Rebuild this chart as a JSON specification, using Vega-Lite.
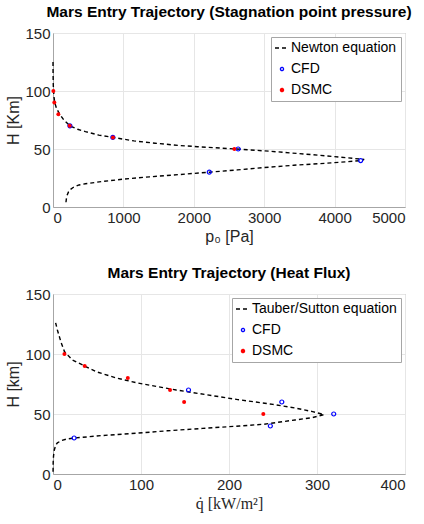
{
  "$schema": "https://vega.github.io/schema/vega-lite/v6.json",
  "padding": {"left": 5, "top": 4, "right": 4, "bottom": 4},
  "spacing": 20,
  "config": {
    "font": "Liberation Sans",
    "view": {"stroke": "#a6a6a6", "strokeWidth": 1},
    "axis": {
      "labelFontSize": 15, "labelColor": "#262626", "labelFont": "Liberation Sans", "format": "d",
      "titleFontSize": 16, "titleFontWeight": "normal", "titleColor": "#262626", "titleFont": "Liberation Sans",
      "gridColor": "#e6e6e6", "domainColor": "#a6a6a6", "ticks": false, "labelPadding": 3, "titlePadding": 3
    },
    "title": {"fontSize": 15.5, "fontWeight": "bold", "color": "#000000", "offset": 6, "font": "Liberation Sans"},
    "legend": {
      "orient": "top-right", "offset": 4, "strokeColor": "#a6a6a6", "fillColor": "white", "padding": 4,
      "labelFontSize": 14, "labelColor": "#000000", "labelFont": "Liberation Sans", "rowPadding": 7, "labelOffset": 2
    }
  },
  "datasets": {
    "pressure": [
      {"H": 125, "p": 0, "series": "Newton equation"},
      {"H": 115, "p": 1, "series": "Newton equation"},
      {"H": 105, "p": 4, "series": "Newton equation"},
      {"H": 100, "p": 8, "series": "Newton equation"},
      {"H": 95, "p": 14, "series": "Newton equation"},
      {"H": 90, "p": 25, "series": "Newton equation"},
      {"H": 85, "p": 50, "series": "Newton equation"},
      {"H": 80, "p": 95, "series": "Newton equation"},
      {"H": 75, "p": 155, "series": "Newton equation"},
      {"H": 70, "p": 240, "series": "Newton equation"},
      {"H": 67, "p": 350, "series": "Newton equation"},
      {"H": 65, "p": 460, "series": "Newton equation"},
      {"H": 62, "p": 650, "series": "Newton equation"},
      {"H": 60, "p": 850, "series": "Newton equation"},
      {"H": 57, "p": 1150, "series": "Newton equation"},
      {"H": 55, "p": 1450, "series": "Newton equation"},
      {"H": 53, "p": 1800, "series": "Newton equation"},
      {"H": 52, "p": 2050, "series": "Newton equation"},
      {"H": 50, "p": 2600, "series": "Newton equation"},
      {"H": 48, "p": 3100, "series": "Newton equation"},
      {"H": 46, "p": 3500, "series": "Newton equation"},
      {"H": 44, "p": 3900, "series": "Newton equation"},
      {"H": 42, "p": 4250, "series": "Newton equation"},
      {"H": 41, "p": 4420, "series": "Newton equation"},
      {"H": 40, "p": 4380, "series": "Newton equation"},
      {"H": 38, "p": 3950, "series": "Newton equation"},
      {"H": 36, "p": 3420, "series": "Newton equation"},
      {"H": 34, "p": 3000, "series": "Newton equation"},
      {"H": 32, "p": 2620, "series": "Newton equation"},
      {"H": 30, "p": 2220, "series": "Newton equation"},
      {"H": 28, "p": 1800, "series": "Newton equation"},
      {"H": 26, "p": 1370, "series": "Newton equation"},
      {"H": 24, "p": 1000, "series": "Newton equation"},
      {"H": 22, "p": 700, "series": "Newton equation"},
      {"H": 20, "p": 460, "series": "Newton equation"},
      {"H": 19, "p": 370, "series": "Newton equation"},
      {"H": 17, "p": 290, "series": "Newton equation"},
      {"H": 15, "p": 245, "series": "Newton equation"},
      {"H": 13, "p": 220, "series": "Newton equation"},
      {"H": 10, "p": 200, "series": "Newton equation"},
      {"H": 7, "p": 190, "series": "Newton equation"},
      {"H": 3, "p": 182, "series": "Newton equation"},
      {"H": 70, "p": 240, "series": "CFD"},
      {"H": 60, "p": 850, "series": "CFD"},
      {"H": 50, "p": 2630, "series": "CFD"},
      {"H": 40, "p": 4370, "series": "CFD"},
      {"H": 30, "p": 2220, "series": "CFD"},
      {"H": 100, "p": 5, "series": "DSMC"},
      {"H": 90, "p": 19, "series": "DSMC"},
      {"H": 80, "p": 76, "series": "DSMC"},
      {"H": 70, "p": 237, "series": "DSMC"},
      {"H": 60, "p": 852, "series": "DSMC"},
      {"H": 50, "p": 2576, "series": "DSMC"}
    ],
    "heat": [
      {"H": 126, "q": 3, "series": "Tauber/Sutton equation"},
      {"H": 120, "q": 5, "series": "Tauber/Sutton equation"},
      {"H": 110, "q": 9, "series": "Tauber/Sutton equation"},
      {"H": 102, "q": 13, "series": "Tauber/Sutton equation"},
      {"H": 95, "q": 22, "series": "Tauber/Sutton equation"},
      {"H": 90, "q": 36, "series": "Tauber/Sutton equation"},
      {"H": 85, "q": 50, "series": "Tauber/Sutton equation"},
      {"H": 80, "q": 72, "series": "Tauber/Sutton equation"},
      {"H": 76, "q": 95, "series": "Tauber/Sutton equation"},
      {"H": 72, "q": 125, "series": "Tauber/Sutton equation"},
      {"H": 70, "q": 140, "series": "Tauber/Sutton equation"},
      {"H": 66, "q": 175, "series": "Tauber/Sutton equation"},
      {"H": 62, "q": 210, "series": "Tauber/Sutton equation"},
      {"H": 58, "q": 250, "series": "Tauber/Sutton equation"},
      {"H": 55, "q": 275, "series": "Tauber/Sutton equation"},
      {"H": 52, "q": 295, "series": "Tauber/Sutton equation"},
      {"H": 49.5, "q": 308, "series": "Tauber/Sutton equation"},
      {"H": 47, "q": 295, "series": "Tauber/Sutton equation"},
      {"H": 45, "q": 275, "series": "Tauber/Sutton equation"},
      {"H": 43, "q": 255, "series": "Tauber/Sutton equation"},
      {"H": 41.5, "q": 240, "series": "Tauber/Sutton equation"},
      {"H": 40, "q": 212, "series": "Tauber/Sutton equation"},
      {"H": 38, "q": 170, "series": "Tauber/Sutton equation"},
      {"H": 36, "q": 130, "series": "Tauber/Sutton equation"},
      {"H": 34, "q": 95, "series": "Tauber/Sutton equation"},
      {"H": 32, "q": 55, "series": "Tauber/Sutton equation"},
      {"H": 31, "q": 40, "series": "Tauber/Sutton equation"},
      {"H": 30, "q": 24, "series": "Tauber/Sutton equation"},
      {"H": 29, "q": 15, "series": "Tauber/Sutton equation"},
      {"H": 28, "q": 10, "series": "Tauber/Sutton equation"},
      {"H": 26, "q": 5, "series": "Tauber/Sutton equation"},
      {"H": 24, "q": 3, "series": "Tauber/Sutton equation"},
      {"H": 20, "q": 1.5, "series": "Tauber/Sutton equation"},
      {"H": 15, "q": 0.6, "series": "Tauber/Sutton equation"},
      {"H": 10, "q": 0.2, "series": "Tauber/Sutton equation"},
      {"H": 0, "q": 0, "series": "Tauber/Sutton equation"},
      {"H": 70, "q": 154, "series": "CFD"},
      {"H": 60, "q": 260, "series": "CFD"},
      {"H": 50, "q": 319, "series": "CFD"},
      {"H": 40, "q": 247, "series": "CFD"},
      {"H": 30, "q": 24, "series": "CFD"},
      {"H": 100, "q": 13, "series": "DSMC"},
      {"H": 90, "q": 36, "series": "DSMC"},
      {"H": 80, "q": 85, "series": "DSMC"},
      {"H": 70, "q": 133, "series": "DSMC"},
      {"H": 60, "q": 149, "series": "DSMC"},
      {"H": 50, "q": 239, "series": "DSMC"}
    ]
  },
  "resolve": {"scale": {"color": "independent"}, "legend": {"color": "independent"}},
  "vconcat": [
    {
      "width": 352, "height": 174,
      "title": "Mars Entry Trajectory (Stagnation point pressure)",
      "data": {"name": "pressure"},
      "encoding": {
        "x": {"field": "p", "type": "quantitative", "scale": {"domain": [0, 5000], "nice": false}, "axis": {"title": "p₀ [Pa]", "values": [0, 1000, 2000, 3000, 4000, 5000]}},
        "y": {"field": "H", "type": "quantitative", "scale": {"domain": [0, 150], "nice": false}, "axis": {"title": "H [Km]", "values": [0, 50, 100, 150]}},
        "color": {"field": "series", "type": "nominal", "scale": {"domain": ["Newton equation", "CFD", "DSMC"], "range": ["#000000", "#0000ff", "#ff0000"]},
          "legend": {"title": null, "encode": {"symbols": {"update": {
            "shape": {"signal": "datum.value === 'Newton equation' ? 'stroke' : 'circle'"},
            "size": {"signal": "datum.value === 'Newton equation' ? 196 : 10"},
            "strokeDash": {"signal": "datum.value === 'Newton equation' ? [4, 3] : [1, 0]"},
            "fill": {"signal": "datum.value === 'DSMC' ? '#ff0000' : 'transparent'"},
            "fillOpacity": {"signal": "datum.value === 'DSMC' ? 1 : 0"},
            "stroke": {"signal": "datum.value === 'Newton equation' ? '#000000' : (datum.value === 'CFD' ? '#0000ff' : '#ff0000')"},
            "strokeWidth": {"value": 1.3},
            "opacity": {"value": 1}
          }}}}}
      },
      "layer": [
        {"transform": [{"filter": "datum.series === 'Newton equation'"}], "mark": {"type": "line", "strokeDash": [4, 3], "strokeWidth": 1.4}, "encoding": {"order": {"field": "H", "type": "quantitative", "sort": "descending"}}},
        {"transform": [{"filter": "datum.series === 'CFD'"}], "mark": {"type": "point", "filled": false, "size": 16, "strokeWidth": 1.2, "opacity": 1}},
        {"transform": [{"filter": "datum.series === 'DSMC'"}], "mark": {"type": "circle", "size": 16, "opacity": 1}}
      ]
    },
    {
      "width": 352, "height": 180,
      "title": "Mars Entry Trajectory (Heat Flux)",
      "data": {"name": "heat"},
      "encoding": {
        "x": {"field": "q", "type": "quantitative", "scale": {"domain": [0, 400], "nice": false}, "axis": {"title": "q̇ [kW/m²]", "titleFont": "Liberation Serif", "values": [0, 100, 200, 300, 400]}},
        "y": {"field": "H", "type": "quantitative", "scale": {"domain": [0, 150], "nice": false}, "axis": {"title": "H [km]", "values": [0, 50, 100, 150]}},
        "color": {"field": "series", "type": "nominal", "scale": {"domain": ["Tauber/Sutton equation", "CFD", "DSMC"], "range": ["#000000", "#0000ff", "#ff0000"]},
          "legend": {"title": null, "encode": {"symbols": {"update": {
            "shape": {"signal": "datum.value === 'Tauber/Sutton equation' ? 'stroke' : 'circle'"},
            "size": {"signal": "datum.value === 'Tauber/Sutton equation' ? 196 : 10"},
            "strokeDash": {"signal": "datum.value === 'Tauber/Sutton equation' ? [4, 3] : [1, 0]"},
            "fill": {"signal": "datum.value === 'DSMC' ? '#ff0000' : 'transparent'"},
            "fillOpacity": {"signal": "datum.value === 'DSMC' ? 1 : 0"},
            "stroke": {"signal": "datum.value === 'Tauber/Sutton equation' ? '#000000' : (datum.value === 'CFD' ? '#0000ff' : '#ff0000')"},
            "strokeWidth": {"value": 1.3},
            "opacity": {"value": 1}
          }}}}}
      },
      "layer": [
        {"transform": [{"filter": "datum.series === 'Tauber/Sutton equation'"}], "mark": {"type": "line", "strokeDash": [4, 3], "strokeWidth": 1.4}, "encoding": {"order": {"field": "H", "type": "quantitative", "sort": "descending"}}},
        {"transform": [{"filter": "datum.series === 'CFD'"}], "mark": {"type": "point", "filled": false, "size": 16, "strokeWidth": 1.2, "opacity": 1}},
        {"transform": [{"filter": "datum.series === 'DSMC'"}], "mark": {"type": "circle", "size": 16, "opacity": 1}}
      ]
    }
  ]
}
